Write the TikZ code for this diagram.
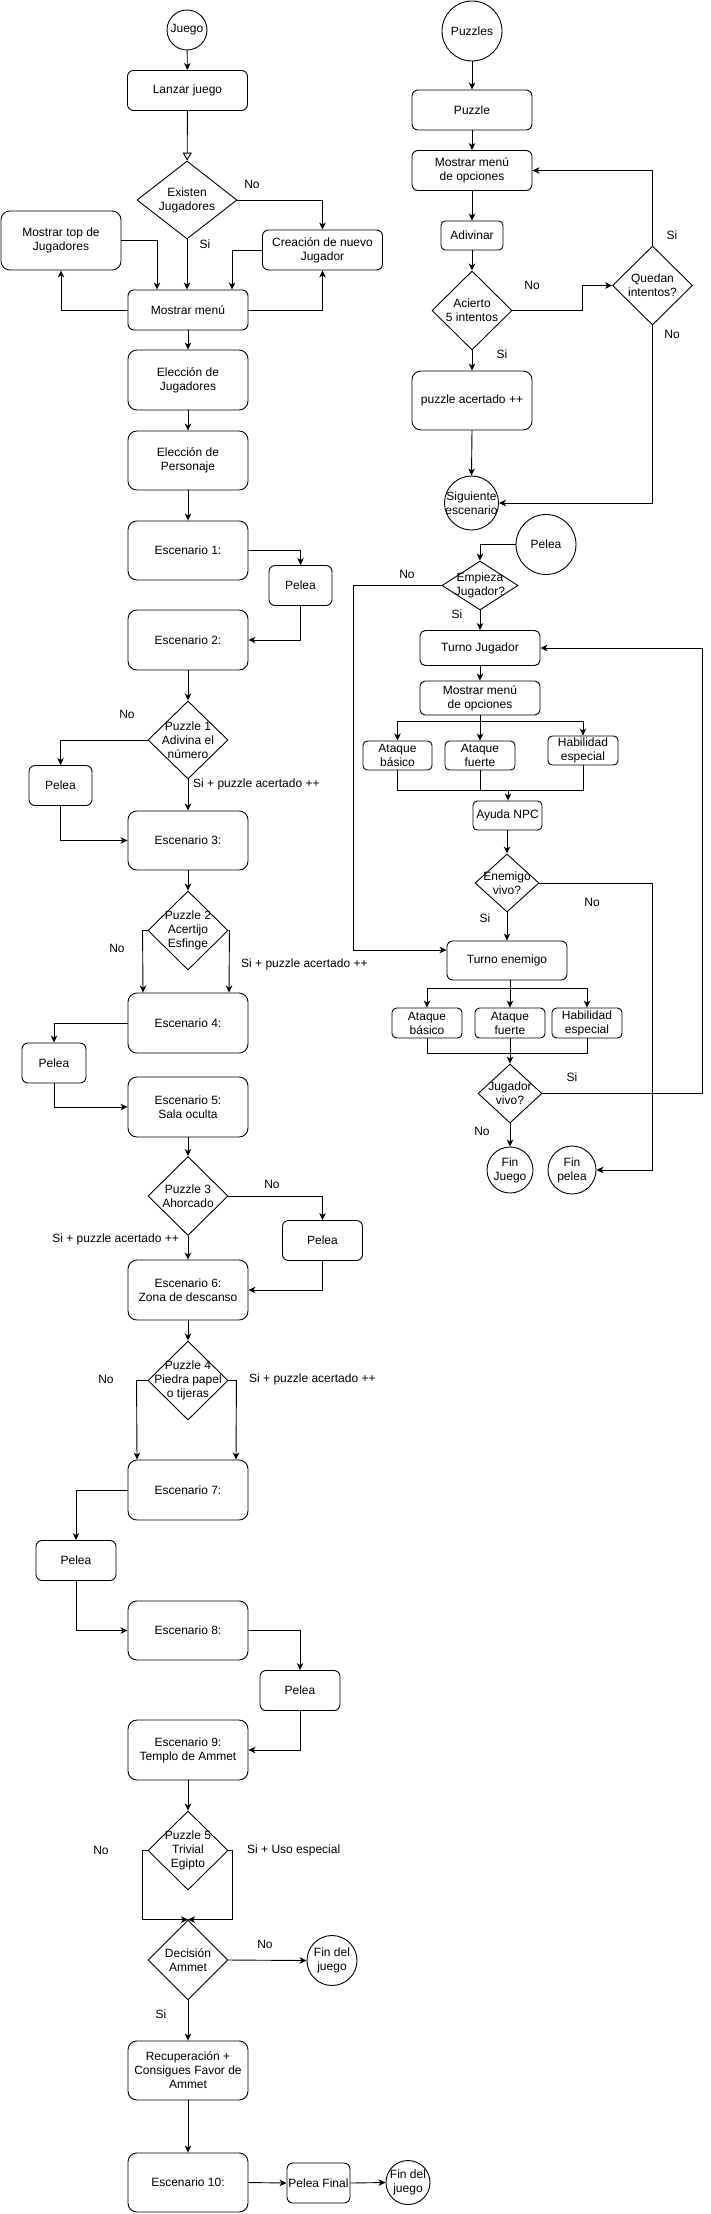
\documentclass[tikz,border=0pt]{standalone}
\usepackage{fontspec}
\setmainfont{Liberation Sans}
\usetikzlibrary{shapes.geometric,arrows.meta,calc}
\begin{document}
\tikzset{
  ln/.style={line width=0.9pt},
  arr/.style={ln, -{Stealth[length=7pt,width=6.5pt,inset=2pt]}},
  oarr/.style={ln, -{Triangle[open,length=8pt,width=9pt,fill=white]}},
  rb/.style 2 args={draw, ln, rounded corners={0.15*#2}, minimum width=#1pt, minimum height=#2pt, inner sep=1pt, align=center, fill=white},
  dia/.style n args={3}{draw, ln, diamond, minimum width=#1pt, minimum height=#2pt, inner sep=0pt, label={[align=center, inner sep=0pt]center:#3}},
  circ/.style 2 args={draw, ln, circle, minimum size=#1pt, inner sep=0pt, label={[align=center,inner sep=0pt]center:#2}},
  lbl/.style={inner sep=0pt},
}
\begin{tikzpicture}[x=1pt,y=-1pt,font=\fontsize{12}{14}\selectfont]
\useasboundingbox (0,0) rectangle (711,2214);

% ---------------- left column ----------------
\node[circ={40}{Juego}] (juego) at (187,30) {};
\node[rb={120}{40}] (lanzar) at (187.5,90.5) {Lanzar juego};
\node[dia={100}{78}{Existen\\Jugadores}] (existen) at (187,200) {};
\node[rb={120}{40}] (creacion) at (322.5,250) {Creación de nuevo\\Jugador};
\node[rb={120}{59}] (mtop) at (61,240.5) {Mostrar top de\\Jugadores};
\node[rb={120}{40}] (menu) at (188,310) {Mostrar menú};
\node[rb={120}{60}] (ejug) at (188,380) {Elección de\\Jugadores};
\node[rb={120}{59}] (epers) at (188,460.5) {Elección de\\Personaje};
\node[rb={120}{59}] (esc1) at (188,550.5) {Escenario 1:};
\node[rb={63}{40}] (pelea1) at (300.5,585.5) {Pelea};
\node[rb={120}{60}] (esc2) at (188,640) {Escenario 2:};
\node[dia={80}{78}{Puzzle 1\\Adivina el\\número}] (pz1) at (188,740) {};
\node[rb={63}{40}] (pelea2) at (60.5,785.5) {Pelea};
\node[rb={120}{59}] (esc3) at (188,840.5) {Escenario 3:};
\node[dia={80}{79}{Puzzle 2\\Acertijo\\Esfinge}] (pz2) at (188,930.5) {};
\node[rb={120}{60}] (esc4) at (188,1023) {Escenario 4:};
\node[rb={64}{40}] (pelea3) at (54,1063) {Pelea};
\node[rb={120}{60}] (esc5) at (188,1107) {Escenario 5:\\Sala oculta};
\node[dia={80}{79}{Puzzle 3\\Ahorcado}] (pz3) at (188,1196) {};
\node[rb={80}{40}] (pelea4) at (322.5,1240.5) {Pelea};
\node[rb={120}{60}] (esc6) at (188,1290) {Escenario 6:\\Zona de descanso};
\node[dia={80}{79}{Puzzle 4\\Piedra papel\\o tijeras}] (pz4) at (188,1380.5) {};
\node[rb={120}{60}] (esc7) at (188,1490) {Escenario 7:};
\node[rb={80}{40}] (pelea5) at (76,1560.5) {Pelea};
\node[rb={120}{59}] (esc8) at (188,1630.5) {Escenario 8:};
\node[rb={80}{40}] (pelea6) at (300,1690.5) {Pelea};
\node[rb={120}{60}] (esc9) at (188,1750) {Escenario 9:\\Templo de Ammet};
\node[dia={80}{79}{Puzzle 5\\Trivial\\Egipto}] (pz5) at (188,1850.5) {};
\node[dia={80}{80}{Decisión\\Ammet}] (dec) at (188,1960) {};
\node[circ={50}{Fin del\\juego}] (fin1) at (332,1960.5) {};
\node[rb={120}{59}] (recup) at (188,2070.5) {Recuperación +\\Consigues Favor de\\Ammet};
\node[rb={120}{59}] (esc10) at (188,2182.5) {Escenario 10:};
\node[rb={63}{40}, inner sep=0pt] (pfinal) at (318.5,2183) {Pelea Final};
\node[circ={44}{Fin del\\juego}] (fin2) at (408,2182.5) {};

% labels left
\node[lbl] (l1) at (252,184) {No};
\node[lbl] (l2) at (205,244) {Si};
\node[lbl] (l3) at (127,714) {No};
\node[lbl, anchor=west] (l4) at (193,784) {Si + puzzle acertado ++};
\node[lbl] (l5) at (117,948) {No};
\node[lbl, anchor=west] (l6) at (241,964) {Si + puzzle acertado ++};
\node[lbl] (l7) at (272,1184) {No};
\node[lbl, anchor=east] (l8) at (179,1239) {Si + puzzle acertado ++};
\node[lbl] (l9) at (106,1379) {No};
\node[lbl, anchor=west] (l10) at (249,1379) {Si + puzzle acertado ++};
\node[lbl] (l11) at (101,1850) {No};
\node[lbl, anchor=west] (l12) at (247,1850) {Si + Uso especial};
\node[lbl] (l13) at (265,1944) {No};
\node[lbl] (l14) at (161,2014) {Si};

% connectors left
\draw[arr] (juego) -- (lanzar);
\draw[oarr] (lanzar) -- (existen);
\draw[arr] (existen.east) -| (creacion.north);
\draw[arr] (existen.south) -- (existen.south |- menu.north);
\draw[arr] (mtop.east) -| ([xshift=-31pt]menu.north);
\draw[arr] (creacion.west) -| ([xshift=44pt]menu.north);
\draw[arr] (menu.west) -| (mtop.south);
\draw[arr] (menu.east) -| (creacion.south);
\draw[arr] (menu) -- (ejug);
\draw[arr] (ejug) -- (epers);
\draw[arr] (epers) -- (esc1);
\draw[arr] (esc1.east) -| (pelea1.north);
\draw[arr] (pelea1.south) |- (esc2.east);
\draw[arr] (esc2) -- (pz1);
\draw[arr] (pz1.west) -| (pelea2.north);
\draw[arr] (pelea2.south) |- (esc3.west);
\draw[arr] (pz1.south) -- (esc3.north);
\draw[arr] (esc3) -- (pz2);
\draw[arr] (pz2.west) -- ++(-5,0) -- ([xshift=-45pt]esc4.north);
\draw[arr] (pz2.east) -- ++(1,0) -- ([xshift=41pt]esc4.north);
\draw[arr] (esc4.west) -| (pelea3.north);
\draw[arr] (pelea3.south) |- (esc5.west);
\draw[arr] (esc5) -- (pz3);
\draw[arr] (pz3.east) -| (pelea4.north);
\draw[arr] (pelea4.south) |- (esc6.east);
\draw[arr] (pz3.south) -- (esc6.north);
\draw[arr] (esc6) -- (pz4);
\draw[arr] (pz4.west) -- ++(-11,0) -- ([xshift=-51pt]esc7.north);
\draw[arr] (pz4.east) -- ++(8,0) -- ([xshift=48pt]esc7.north);
\draw[arr] (esc7.west) -| (pelea5.north);
\draw[arr] (pelea5.south) |- (esc8.west);
\draw[arr] (esc8.east) -| (pelea6.north);
\draw[arr] (pelea6.south) |- (esc9.east);
\draw[arr] (esc9) -- (pz5);
\draw[arr] (pz5.west) -- ++(-5,0) |- (dec.north);
\draw[arr] (pz5.east) -- ++(4,0) |- (dec.north);
\draw[arr] (dec.east) -- (fin1.west);
\draw[arr] (dec.south) -- (recup.north);
\draw[arr] (recup) -- (esc10);
\draw[arr] (esc10.east) -- (pfinal.west);
\draw[arr] (pfinal.east) -- (fin2.west);

% ---------------- right column: puzzles ----------------
\node[circ={60}{Puzzles}] (puzzles) at (472,31) {};
\node[rb={120}{40}] (puzzle) at (472,110) {Puzzle};
\node[rb={120}{40}] (mopc) at (472,170.5) {Mostrar menú\\de opciones};
\node[rb={62}{29}] (adiv) at (472,235.5) {Adivinar};
\node[dia={80}{79}{Acierto\\5 intentos}] (acierto) at (472,310.5) {};
\node[dia={80}{79}{Quedan\\intentos?}] (quedan) at (652.5,285.5) {};
\node[rb={120}{59}] (pacert) at (472,400.5) {puzzle acertado ++};
\node[circ={54}{Siguiente\\escenario}] (sig) at (471.5,503) {};

\node[lbl] (r1) at (532,285) {No};
\node[lbl] (r2) at (502,354) {Si};
\node[lbl] (r3) at (672,235) {Si};
\node[lbl] (r4) at (672,334) {No};

\draw[arr] (puzzles) -- (puzzle);
\draw[arr] (puzzle) -- (mopc);
\draw[arr] (mopc) -- (adiv);
\draw[arr] (adiv) -- (acierto);
\draw[arr] (acierto.east) -- ++(70,0) |- (quedan.west);
\draw[arr] (quedan.north) |- (mopc.east);
\draw[arr] (quedan.south) |- (sig.east);
\draw[arr] (acierto.south) -- (pacert.north);
\draw[arr] (pacert.south) -- (sig.north);

% ---------------- right column: pelea ----------------
\node[circ={60}{Pelea}] (pelea) at (546,544.5) {};
\node[dia={76}{49}{Empieza\\Jugador?}] (empieza) at (480,585.5) {};
\node[rb={120}{35}] (tjug) at (480,648) {Turno Jugador};
\node[rb={120}{34}] (mopc2) at (480,698) {Mostrar menú\\de opciones};
\node[rb={69}{29}] (ab1) at (397.5,755.5) {Ataque\\básico};
\node[rb={70}{29}] (af1) at (480,755.5) {Ataque\\fuerte};
\node[rb={70}{29}] (he1) at (583,750.5) {Habilidad\\especial};
\node[rb={69}{29}] (npc) at (507.5,815.5) {Ayuda NPC};
\node[dia={64}{58}{Enemigo\\vivo?}] (enemigo) at (507,883) {};
\node[rb={120}{39}] (tene) at (507,960.5) {Turno enemigo};
\node[rb={70}{30}] (ab2) at (427,1023) {Ataque\\básico};
\node[rb={70}{30}] (af2) at (510,1023) {Ataque\\fuerte};
\node[rb={70}{30}] (he2) at (587,1023) {Habilidad\\especial};
\node[dia={64}{59}{Jugador\\vivo?}] (jvivo) at (510,1093.5) {};
\node[circ={46}{Fin\\Juego}] (finj) at (510,1170) {};
\node[circ={48}{Fin\\pelea}] (finp) at (572,1170) {};

\node[lbl] (p1) at (407,574) {No};
\node[lbl] (p2) at (457,614) {Si};
\node[lbl] (p3) at (592,902) {No};
\node[lbl] (p4) at (485,918) {Si};
\node[lbl] (p5) at (572,1077) {Si};
\node[lbl] (p6) at (482,1131) {No};

\coordinate (eN) at (353,950);
\coordinate (b1) at (480,721);
\coordinate (m1) at (508,790);
\coordinate (b2) at (510,988);
\coordinate (m2) at (510,1053);
\coordinate (cR) at (652,1170);
\coordinate (cL) at (702,648);

\draw[arr] (pelea.west) -| (empieza.north);
\draw[arr] (empieza.west) -| (eN) -- (eN -| tene.west);
\draw[arr] (empieza.south) -- (tjug.north);
\draw[arr] (tjug) -- (mopc2);
\draw[ln] (mopc2.south) -- (b1);
\draw[arr] (b1) -- (af1.north);
\draw[arr] (b1) -| (ab1.north);
\draw[arr] (b1) -| (he1.north);
\draw[ln] (ab1.south) |- (m1);
\draw[ln] (he1.south) |- (m1);
\draw[ln] (af1.south) -- (af1.south |- m1);
\draw[arr] (m1) -- (m1 |- npc.north);
\draw[arr] (npc.south -| enemigo.north) -- (enemigo.north);
\draw[arr] (enemigo.east) -| (cR) -- (finp.east);
\draw[arr] (enemigo.south) -- (tene.north);
\draw[ln] (tene.south -| b2) -- (b2);
\draw[arr] (b2) -- (af2.north);
\draw[arr] (b2) -| (ab2.north);
\draw[arr] (b2) -| (he2.north);
\draw[ln] (ab2.south) |- (m2);
\draw[ln] (he2.south) |- (m2);
\draw[ln] (af2.south) -- (m2);
\draw[arr] (m2) -- (jvivo.north);
\draw[arr] (jvivo.east) -| (cL) -- (tjug.east);
\draw[arr] (jvivo.south) -- (finj.north);
\end{tikzpicture}
\end{document}
